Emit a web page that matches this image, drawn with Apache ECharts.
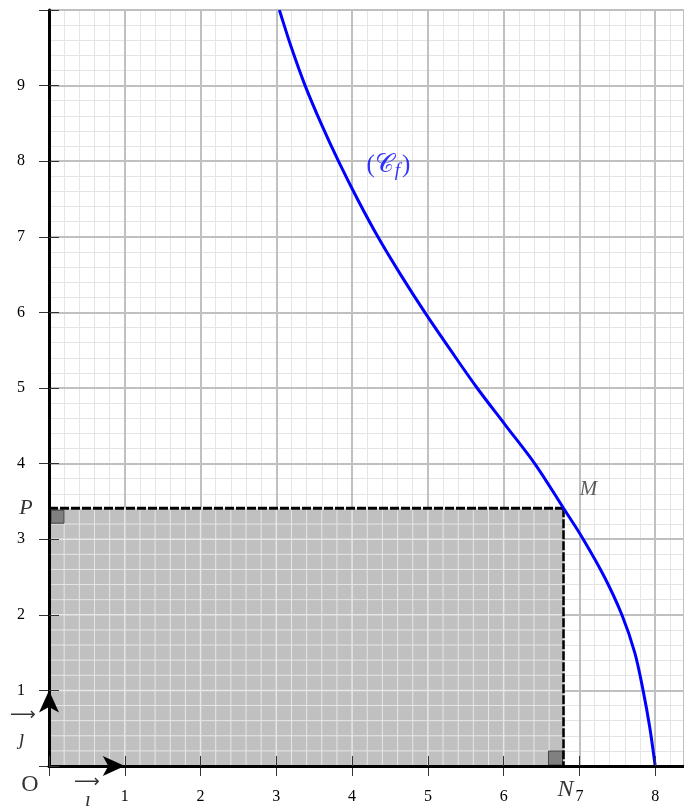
<!DOCTYPE html>
<html><head><meta charset="utf-8">
<script src="https://cdn.jsdelivr.net/npm/echarts@6/dist/echarts.min.js"></script>
<style>html,body{margin:0;padding:0;background:#fff}#c{width:684px;height:807px}</style>
</head><body><div id="c"></div>
<script>
// ---- data ----
const curveX = [3.04,3.20,3.38,3.59,3.82,4.07,4.34,4.64,4.96,5.30,5.65,6.03,6.41,6.79,7.05,7.33,7.56,7.73,7.84,7.93,8.00];
const curveY = [10,9.5,9,8.5,8,7.5,7,6.5,6,5.5,5,4.5,4,3.41,3,2.5,2,1.5,1,0.5,0];
const pointM = [6.79, 3.41];
const xTickLabels = [1,2,3,4,5,6,7,8];
const yTickLabels = [1,2,3,4,5,6,7,8,9];

const serif = 'Liberation Serif';
const X_MAX = 8.38, Y_MAX = 10;
const chart = echarts.init(document.getElementById('c'), null, {renderer:'canvas'});

function baseAxis(extra){
  return Object.assign({type:'value', min:0, interval:1}, extra);
}
const xMinor = baseAxis({
  max:X_MAX, interval:0.2, position:'bottom', z:0,
  axisLine:{show:false}, axisTick:{show:false}, axisLabel:{show:false},
  splitLine:{show:true, lineStyle:{color:'#e4e4e4', width:1}}
});
const xMain = baseAxis({
  max:X_MAX, position:'bottom', z:1,
  axisLine:{show:false},
  axisTick:{show:true, length:10, lineStyle:{color:'#333', width:1}},
  axisLabel:{show:true, margin:23, fontFamily:serif, fontSize:16, color:'#000',
    formatter:v=> xTickLabels.includes(v) ? String(v) : ''},
  splitLine:{show:true, lineStyle:{color:'#c0c0c0', width:2}}
});
const xTop = baseAxis({
  max:X_MAX, position:'bottom', z:10,
  axisLine:{show:true, onZero:false, lineStyle:{color:'#000', width:3}},
  axisTick:{show:true, inside:true, length:10, lineStyle:{color:'#333', width:1}},
  axisLabel:{show:false}, splitLine:{show:false}
});
const yMinor = baseAxis({
  max:Y_MAX, interval:0.2, position:'left', z:0,
  axisLine:{show:false}, axisTick:{show:false}, axisLabel:{show:false},
  splitLine:{show:true, lineStyle:{color:'#e4e4e4', width:1}}
});
const yMain = baseAxis({
  max:Y_MAX, position:'left', z:1,
  axisLine:{show:false},
  axisTick:{show:true, length:10, lineStyle:{color:'#333', width:1}},
  axisLabel:{show:true, margin:24, fontFamily:serif, fontSize:16, color:'#000',
    formatter:v=> yTickLabels.includes(v) ? String(v) : ''},
  splitLine:{show:true, lineStyle:{color:'#c0c0c0', width:2}}
});
const yTop = baseAxis({
  max:Y_MAX, position:'left', z:10,
  axisLine:{show:true, onZero:false, lineStyle:{color:'#000', width:3}},
  axisTick:{show:true, inside:true, length:10, lineStyle:{color:'#333', width:1}},
  axisLabel:{show:false}, splitLine:{show:false}
});

function renderRect(params, api){
  const mx = api.value(0), my = api.value(1);
  const p0 = api.coord([0,0]);
  const p1 = api.coord([mx,my]);
  const children = [];
  children.push({type:'rect', shape:{x:p0[0], y:p1[1], width:p1[0]-p0[0], height:p0[1]-p1[1]},
    style:{fill:'#c0c0c0'}});
  const step = 0.2;
  for (let k=1; k*step < mx-1e-6; k++){
    const a = api.coord([k*step,0]);
    children.push({type:'line', shape:{x1:a[0], y1:p1[1], x2:a[0], y2:p0[1]},
      style:{stroke:'#e6e6e6', lineWidth:(k%5===0)?1.5:1}});
  }
  for (let k=1; k*step < my-1e-6; k++){
    const a = api.coord([0,k*step]);
    children.push({type:'line', shape:{x1:p0[0], y1:a[1], x2:p1[0], y2:a[1]},
      style:{stroke:'#e6e6e6', lineWidth:(k%5===0)?1.5:1}});
  }
  children.push({type:'rect', shape:{x:p0[0]+2, y:p1[1]+2, width:13, height:13},
    style:{fill:'#808080', stroke:'#444', lineWidth:1}});
  children.push({type:'rect', shape:{x:p1[0]-15, y:p0[1]-15, width:14, height:14},
    style:{fill:'#808080', stroke:'#444', lineWidth:1}});
  children.push({type:'line', shape:{x1:p0[0], y1:p1[1], x2:p1[0], y2:p1[1]},
    style:{stroke:'#000', lineWidth:3, lineDash:[9,2]}});
  children.push({type:'line', shape:{x1:p1[0], y1:p1[1], x2:p1[0], y2:p0[1]},
    style:{stroke:'#000', lineWidth:2.5, lineDash:[9,2]}});
  return {type:'group', children};
}

// smooth curve x(y) through the read points (cubic Hermite in pixel space)
function renderCurve(params, api){
  if (params.dataIndexInside !== 0) return null;
  const n = params.dataInsideLength;
  const P = [];
  for (let i=0;i<n;i++) P.push(api.coord([api.value(0,i), api.value(1,i)]));
  const m = P.map((p,i)=>{
    const a = P[Math.max(0,i-1)], b = P[Math.min(n-1,i+1)];
    return (b[0]-a[0])/(b[1]-a[1]);
  });
  let d = 'M' + P[0][0] + ' ' + P[0][1];
  for (let i=0;i<n-1;i++){
    const h = P[i+1][1]-P[i][1];
    const c1 = [P[i][0]+m[i]*h/3, P[i][1]+h/3];
    const c2 = [P[i+1][0]-m[i+1]*h/3, P[i+1][1]-h/3];
    d += ' C' + c1[0]+' '+c1[1]+' '+c2[0]+' '+c2[1]+' '+P[i+1][0]+' '+P[i+1][1];
  }
  return {type:'path', shape:{pathData:d}, style:{fill:null, stroke:'#0000ff', lineWidth:3}};
}

const txt = (extra)=>Object.assign({show:true, fontFamily:serif, color:'#000', position:'inside'}, extra);

const option = {
  animation:false,
  backgroundColor:'#fff',
  grid:{left:49, top:10, width:635, height:756, containLabel:false, outerBoundsMode:'none'},
  xAxis:[xMinor, xMain, xTop],
  yAxis:[yMinor, yMain, yTop],
  series:[
    {type:'custom', renderItem:renderRect, data:[pointM], z:2, silent:true, clip:false},
    {type:'custom', renderItem:renderCurve, data: curveX.map((x,i)=>[x, curveY[i]]), z:5, silent:true, clip:true},
    {type:'line', data:[], z:11, silent:true,
      markLine:{silent:true, symbol:['none','arrow'], symbolSize:[15,22],
        lineStyle:{color:'#000', width:3, type:'solid'}, label:{show:false},
        data:[[{coord:[0,0]},{coord:[1,0]}],[{coord:[0,0]},{coord:[0,1]}]]}},
    {type:'scatter', symbolSize:0, z:12, silent:true,
      data:[
        {value:[0,0], label:txt({formatter:'O', fontSize:24, offset:[-19,19]})},
        {value:[0,pointM[1]], label:txt({formatter:'P', fontSize:22, fontStyle:'italic', offset:[-23,0]})},
        {value:pointM, label:txt({formatter:'M', fontSize:21, fontStyle:'italic', color:'#333', offset:[25,-19]})},
        {value:[pointM[0],0], label:txt({formatter:'N', fontSize:24, fontStyle:'italic', offset:[2,24]})},
        {value:[0.5,0], label:txt({formatter:'⟶', fontSize:18, fontFamily:'DejaVu Sans', offset:[0,16]})},
        {value:[0.5,0], label:txt({formatter:'ı', fontSize:21, fontStyle:'italic', offset:[1,34]})},
        {value:[0,0.5], label:txt({formatter:'⟶', fontSize:18, fontFamily:'DejaVu Sans', offset:[-26,-13]})},
        {value:[0,0.5], label:txt({formatter:'ȷ', fontSize:21, fontStyle:'italic', offset:[-27,10]})},
        {value:[4.48,7.95], label:{show:true, position:'inside', color:'#0000ff',
          formatter:'{p|(}{c|𝒞}{s|f}{p|)}',
          rich:{p:{fontFamily:serif, fontSize:25, color:'#0000ff'},
                c:{fontFamily:'DejaVu Serif', fontSize:26, color:'#0000ff'},
                s:{fontFamily:serif, fontSize:19, fontStyle:'italic', color:'#0000ff', padding:[12,2,0,1]}}}}
      ]}
  ]
};
chart.setOption(option);
</script></body></html>
